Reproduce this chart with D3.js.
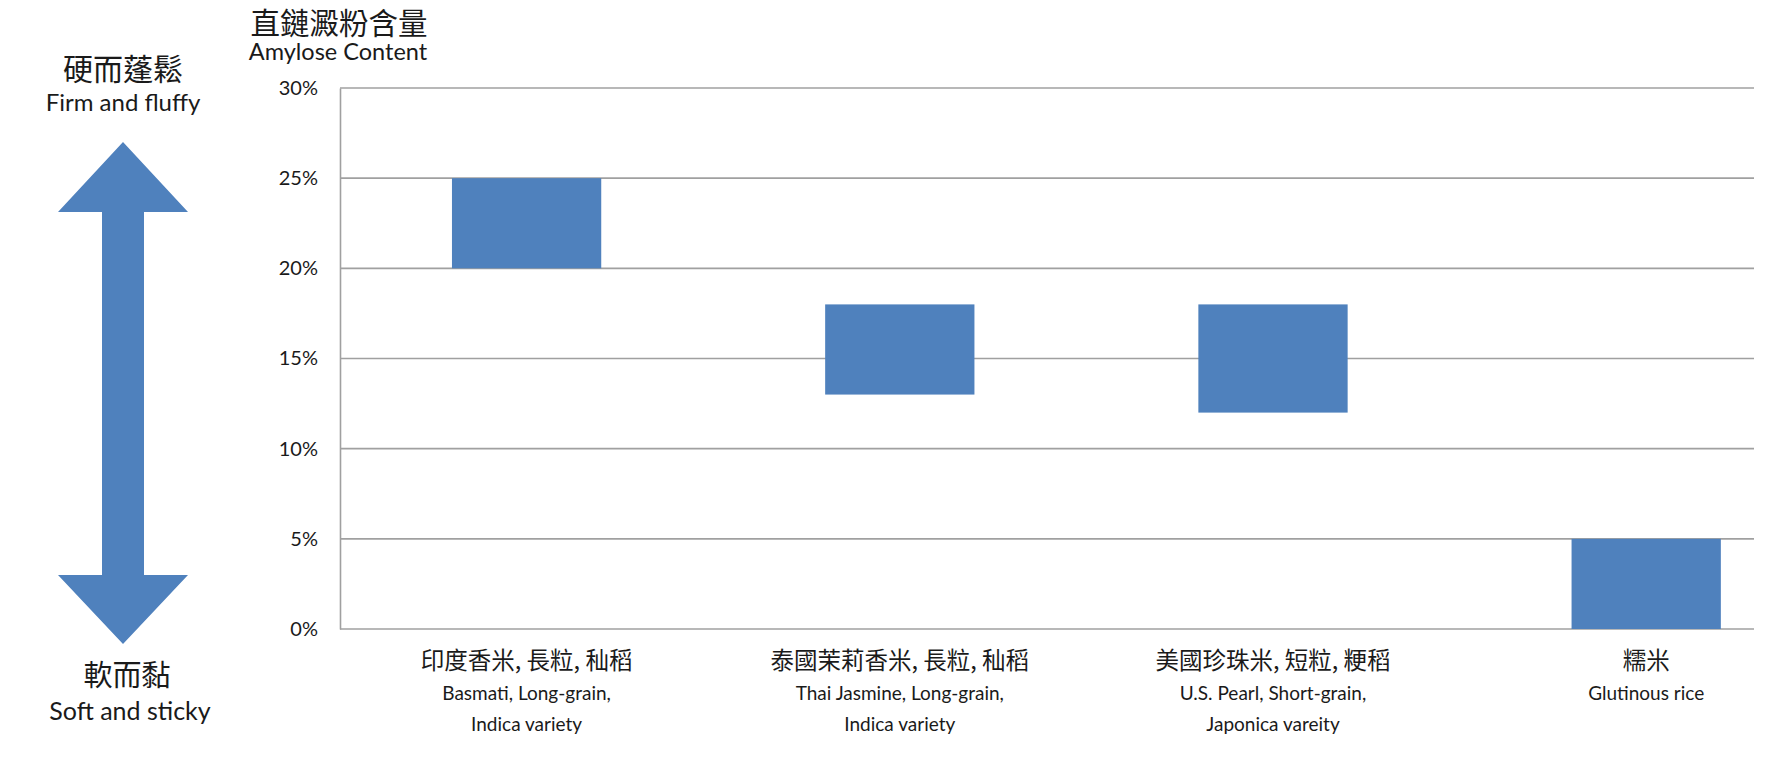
<!DOCTYPE html>
<html>
<head>
<meta charset="utf-8">
<script src="https://cdn.jsdelivr.net/npm/d3@7"></script>
<style>
  body { margin: 0; background: #fff; }
  text { fill: #1a1a1a; }
</style>
</head>
<body>
<div id="chart"></div>
<script>
// data
let categoriesZh = ["印度香米, 長粒, 秈稻", "泰國茉莉香米, 長粒, 秈稻", "美國珍珠米, 短粒, 粳稻", "糯米"]
let categoriesEn = [["Basmati, Long-grain,", "Indica variety"],
                    ["Thai Jasmine, Long-grain,", "Indica variety"],
                    ["U.S. Pearl, Short-grain,", "Japonica vareity"],
                    ["Glutinous rice"]]
let lowValues = [0.20, 0.13, 0.12, 0.00]
let highValues = [0.25, 0.18, 0.18, 0.05]
let yTicks = [0, 0.05, 0.10, 0.15, 0.20, 0.25, 0.30]

let width = 1789
let height = 769
let plotLeft = 340, plotTop = 88, plotBottom = 629
let gridRight = 1754 // plot area was cut off at the right in the original
let bandStep = 373.2

let cjk = "'Noto Sans CJK TC', 'Noto Sans CJK SC', sans-serif"
let latin = "Lato, 'Liberation Sans', sans-serif"

let svg = d3.select("#chart")
            .append("svg")
            .attr("width", width)
            .attr("height", height)

let xScale = d3.scaleBand()
    .domain(d3.range(categoriesZh.length))
    .range([plotLeft, plotLeft + bandStep * categoriesZh.length])

let yScale = d3.scaleLinear()
    .domain([0, 0.30])
    .range([plotBottom, plotTop])

// gridlines
svg.append("g")
    .selectAll("line")
    .data(yTicks)
    .enter()
    .append("line")
    .attr("x1", plotLeft)
    .attr("x2", gridRight)
    .attr("y1", d => yScale(d))
    .attr("y2", d => yScale(d))
    .attr("stroke", "#a0a0a0")
    .attr("stroke-width", 1.6)

// y axis
let yAxis = d3.axisLeft(yScale)
    .tickValues(yTicks)
    .tickFormat(d3.format(".0%"))
    .tickSize(0)
    .tickPadding(22)

let yg = svg.append("g")
    .attr("transform", "translate(" + plotLeft + ",0)")
    .call(yAxis)
yg.select(".domain").attr("stroke", "#a0a0a0").attr("stroke-width", 1.6)
yg.selectAll("text")
    .attr("font-family", latin)
    .attr("font-size", 20)
    .attr("fill", "#1a1a1a")

// floating bars
let barW = xScale.bandwidth() * 0.4
svg.append("g")
    .selectAll("rect")
    .data(lowValues)
    .enter()
    .append("rect")
    .attr("x", (d, i) => xScale(i) + (xScale.bandwidth() - barW) / 2)
    .attr("width", barW)
    .attr("y", (d, i) => yScale(highValues[i]))
    .attr("height", (d, i) => yScale(d) - yScale(highValues[i]))
    .attr("fill", "#4f81bd")

// category labels
let labels = svg.append("g")
    .selectAll("text")
    .data(categoriesZh)
    .enter()
    .append("text")
    .attr("text-anchor", "middle")
    .attr("x", (d, i) => xScale(i) + xScale.bandwidth() / 2)
    .attr("y", 669)

labels.append("tspan")
    .attr("font-family", cjk)
    .attr("font-size", 23.5)
    .text(d => d)

labels.each(function(d, i) {
    let t = d3.select(this)
    categoriesEn[i].forEach(function(line, j) {
        t.append("tspan")
            .attr("x", xScale(i) + xScale.bandwidth() / 2)
            .attr("y", 700 + j * 30.5)
            .attr("font-family", latin)
            .attr("font-size", 19)
            .text(line)
    })
})

// axis title
svg.append("text")
    .attr("x", 339).attr("y", 34)
    .attr("text-anchor", "middle")
    .attr("font-family", cjk).attr("font-size", 29.5)
    .text("直鏈澱粉含量")
svg.append("text")
    .attr("x", 338).attr("y", 60)
    .attr("text-anchor", "middle")
    .attr("font-family", latin).attr("font-size", 23.5)
    .text("Amylose Content")

// double arrow on the left
let ax = 123
let arrow = d3.path()
arrow.moveTo(ax, 142)
arrow.lineTo(188, 212)
arrow.lineTo(144, 212)
arrow.lineTo(144, 575)
arrow.lineTo(188, 575)
arrow.lineTo(ax, 644)
arrow.lineTo(58, 575)
arrow.lineTo(102, 575)
arrow.lineTo(102, 212)
arrow.lineTo(58, 212)
arrow.closePath()
svg.append("path")
    .attr("d", arrow.toString())
    .attr("fill", "#4f81bd")

svg.append("text")
    .attr("x", ax).attr("y", 80)
    .attr("text-anchor", "middle")
    .attr("font-family", cjk).attr("font-size", 30)
    .text("硬而蓬鬆")
svg.append("text")
    .attr("x", ax).attr("y", 111)
    .attr("text-anchor", "middle")
    .attr("font-family", latin).attr("font-size", 24)
    .text("Firm and fluffy")
svg.append("text")
    .attr("x", ax + 4).attr("y", 686)
    .attr("text-anchor", "middle")
    .attr("font-family", cjk).attr("font-size", 29)
    .text("軟而黏")
svg.append("text")
    .attr("x", ax + 7).attr("y", 720)
    .attr("text-anchor", "middle")
    .attr("font-family", latin).attr("font-size", 25)
    .text("Soft and sticky")
</script>
</body>
</html>
